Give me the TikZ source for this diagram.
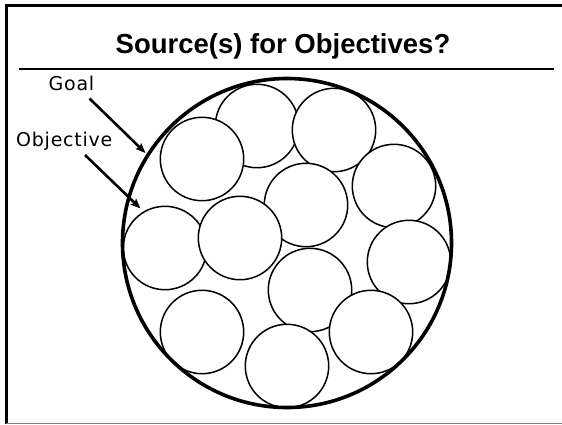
\documentclass[tikz,border=0pt]{standalone}
\usepackage{fontspec}
\setmainfont{Liberation Sans}
\newfontfamily\labelfont[LetterSpace=4]{DejaVu Sans}
\usetikzlibrary{arrows.meta}
\begin{document}
\begin{tikzpicture}[x=1pt,y=-1pt,
  small/.style={circle,draw=black,fill=white,line width=1.5pt,minimum size=83.4pt,inner sep=0pt},
  lbl/.style={anchor=base west,inner sep=0pt,font=\labelfont\fontsize{19}{21}\selectfont},
  pointer/.style={line width=2.6pt,-{Stealth[length=10pt,width=8pt,inset=2pt]}}]
\useasboundingbox (0,0) rectangle (562,424);
% frame
\draw[line width=2.6pt] (6.3,424) -- (6.3,5.3) -- (562,5.3);
\draw[gray,line width=1.5pt] (6.3,423.3) -- (562,423.3);
% title and rule
\node[anchor=base,inner sep=0pt,font=\bfseries\fontsize{27.5}{32}\selectfont] (title) at (283,53) {Source(s) for Objectives?};
\draw[line width=1.5pt] (19,69) -- (554,69);
% small circles
\node[small] (c1) at (257,126) {};
\node[small] (c2) at (334,130) {};
\node[small] (c3) at (202,159) {};
\node[small] (c4) at (394,186) {};
\node[small] (c5) at (306,205) {};
\node[small] (c6) at (165,248) {};
\node[small] (c7) at (240,238) {};
\node[small] (c8) at (409,262) {};
\node[small] (c9) at (310,290) {};
\node[small] (c10) at (202,332) {};
\node[small] (c11) at (371,332) {};
\node[small] (c12) at (287,366) {};
% goal circle
\node[circle,draw=black,line width=3.6pt,minimum size=329pt,inner sep=0pt] (goal) at (287,243) {};
% labels
\node[lbl] (goallbl) at (48.5,90.7) {Goal};
\node[lbl] (objlbl) at (16,146) {Objective};
\coordinate (gs) at (89.5,98.5);
\coordinate (ge) at (145.5,153);
\coordinate (os) at (85,155);
\coordinate (oe) at (140.5,208.5);
\draw[pointer] (gs) -- (ge);
\draw[pointer] (os) -- (oe);
\end{tikzpicture}
\end{document}
